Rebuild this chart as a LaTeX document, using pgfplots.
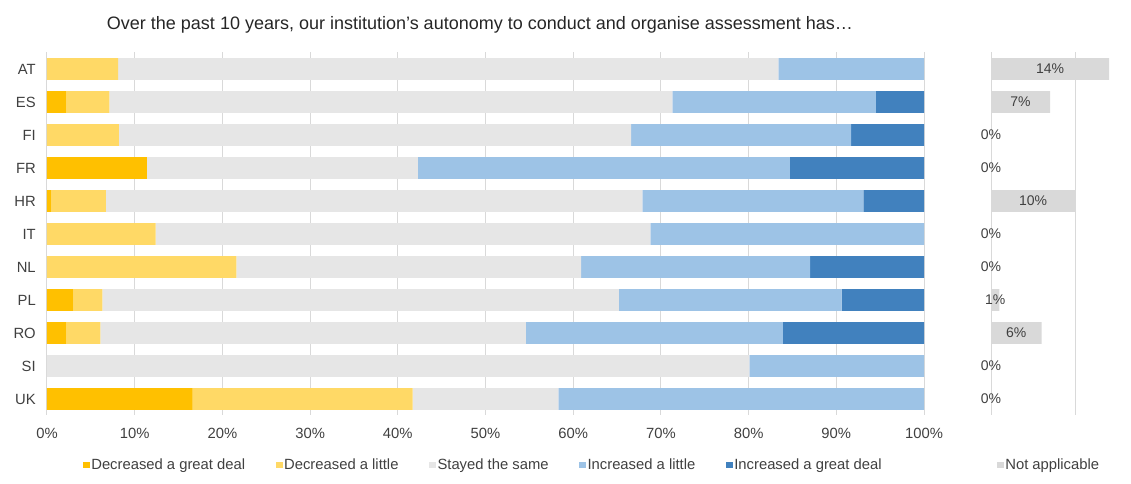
\documentclass[border=0pt]{standalone}
\usepackage{fontspec}
\setmainfont{Liberation Sans}
\usepackage{pgfplots}
\pgfplotsset{compat=1.18}
\usepackage{pgfplotstable}

\definecolor{dgreat}{HTML}{FFC000}
\definecolor{dlittle}{HTML}{FFD966}
\definecolor{same}{HTML}{E6E6E6}
\definecolor{ilittle}{HTML}{9DC3E6}
\definecolor{igreat}{HTML}{4181BE}
\definecolor{notapp}{HTML}{D9D9D9}
\definecolor{gridc}{HTML}{D9D9D9}
\definecolor{txt}{HTML}{404040}

% values in percent
\pgfplotstableread{
y c  dg   dl   ss   il   ig   na
0 AT 0    8.1  75.3 16.6 0    14
1 ES 2.2  4.9  64.2 23.2 5.5  7
2 FI 0    8.2  58.4 25.1 8.3  0
3 FR 11.4 0    30.9 42.4 15.3 0
4 HR 0.5  6.2  61.2 25.2 6.9  10
5 IT 0    12.4 56.4 31.2 0    0
6 NL 0    21.6 39.3 26.1 13.0 0
7 PL 3.0  3.3  58.9 25.4 9.4  1
8 RO 2.2  3.9  48.5 29.3 16.1 6
9 SI 0    0    80.1 19.9 0    0
10 UK 16.6 25.1 16.6 41.7 0   0
}\data

\newcommand\lab{\fontsize{11.1}{13}\selectfont}

\begin{document}
\begin{tikzpicture}
\path[use as bounding box] (0,0) rectangle (848.25pt,363pt);

\node[anchor=base, font=\fontsize{13.5}{16}\selectfont, text=black!85, inner sep=0pt]
  at (360pt,341pt) {Over the past 10 years, our institution’s autonomy to conduct and organise assessment has…};

\begin{axis}[
    at={(35.25pt,51.375pt)}, anchor=south west,
    scale only axis, width=657.75pt, height=272.25pt,
    xbar stacked, bar width=16.3pt,
    xmin=0, xmax=100, ymin=-0.5, ymax=10.5, y dir=reverse,
    xtick={0,10,...,100}, xticklabel={\pgfmathprintnumber{\tick}\%},
    ytick={0,...,10}, yticklabels={AT,ES,FI,FR,HR,IT,NL,PL,RO,SI,UK},
    /pgf/number format/assume math mode=true,
    tick label style={font=\lab, text=txt, inner sep=0pt},
    xticklabel shift=9pt, yticklabel shift=8.25pt,
    major tick length=0pt,
    axis line style={draw=none},
    xmajorgrids, grid style={gridc, line width=0.75pt},
    legend columns=5,
    legend image code/.code={\fill[#1] (0pt,-2.6pt) rectangle (5.25pt,2.6pt);},
    legend style={at={(0.04105,-0.13636)}, anchor=west, draw=none, fill=none,
      font=\lab, text=txt, inner sep=0pt, outer sep=0pt,
      nodes={inner sep=1pt},
      /tikz/every even column/.append style={column sep=22pt}},
    legend cell align=left,
]
\addplot[fill=dgreat, draw=none] table[x=dg, y=y] {\data};
\addplot[fill=dlittle, draw=none] table[x=dl, y=y] {\data};
\addplot[fill=same, draw=none] table[x=ss, y=y] {\data};
\addplot[fill=ilittle, draw=none] table[x=il, y=y] {\data};
\addplot[fill=igreat, draw=none] table[x=ig, y=y] {\data};
\legend{Decreased a great deal, Decreased a little, Stayed the same, Increased a little, Increased a great deal}
\end{axis}

\begin{axis}[
    at={(743.25pt,51.375pt)}, anchor=south west,
    scale only axis, width=101.14pt, height=272.25pt,
    xmin=0, xmax=16, ymin=-0.5, ymax=10.5, y dir=reverse,
    xtick={0,10}, xticklabels={}, ytick=\empty,
    major tick length=0pt,
    axis line style={draw=none},
    xmajorgrids, grid style={gridc, line width=0.75pt},
    legend image code/.code={\fill[#1] (0pt,-2.6pt) rectangle (5.25pt,2.6pt);},
    legend style={at={(0.0445,-0.13636)}, anchor=west, draw=none, fill=none,
      font=\lab, text=txt, inner sep=0pt, outer sep=0pt, nodes={inner sep=1pt}},
    legend cell align=left,
]
\addplot[xbar, bar width=16.3pt, fill=notapp, draw=none] table[x=na, y=y] {\data};
\addlegendentry{Not applicable}
\addplot[draw=none, mark=none, forget plot, point meta=explicit,
    nodes near coords={\pgfmathprintnumber{\pgfplotspointmeta}\%},
    every node near coord/.append style={anchor=center, font=\fontsize{10.5}{12}\selectfont, text=txt, inner sep=0pt},
    /pgf/number format/assume math mode=true]
  table[x expr=\thisrow{na}/2, y=y, meta=na] {\data};
\end{axis}
\end{tikzpicture}
\end{document}
